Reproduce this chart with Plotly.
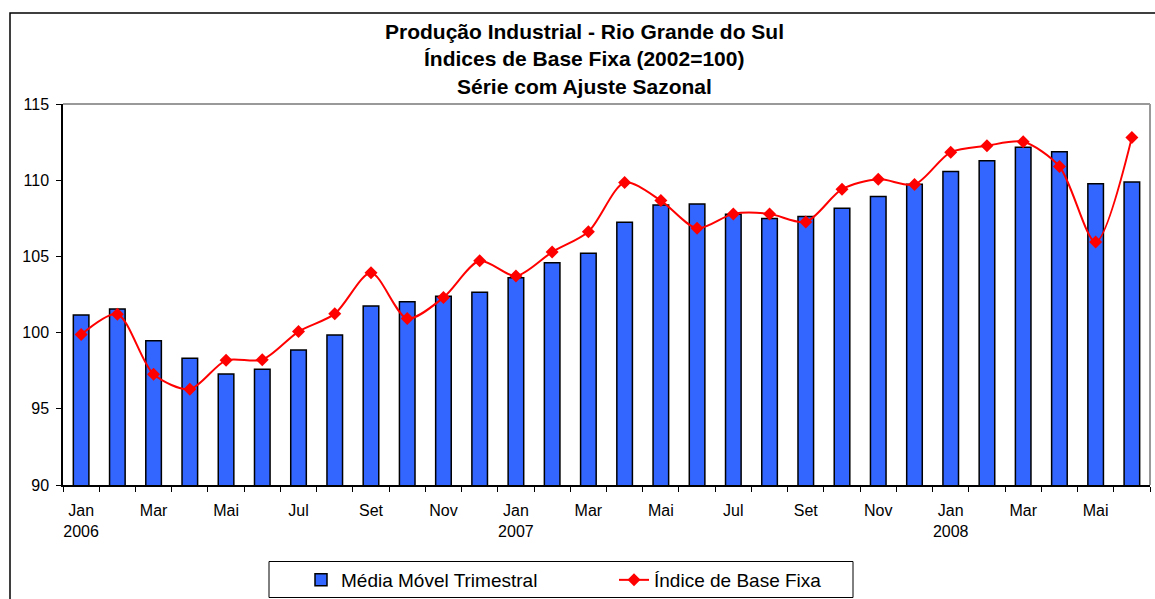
import plotly.graph_objects as go

# ---- data ----
months = ["Jan", "Fev", "Mar", "Abr", "Mai", "Jun", "Jul", "Ago", "Set", "Out", "Nov", "Dez"]
years = [2006, 2007, 2008]
categories = [f"{m} {y}" for y in years for m in months][:30]

media_movel = [101.15, 101.55, 99.47, 98.31, 97.28, 97.59, 98.86, 99.84, 101.75, 102.02,
               102.39, 102.65, 103.60, 104.58, 105.20, 107.24, 108.38, 108.44, 107.76, 107.48,
               107.61, 108.16, 108.93, 109.74, 110.57, 111.27, 112.17, 111.86, 109.76, 109.89]
indice_base = [99.87, 101.21, 97.26, 96.29, 98.18, 98.22, 100.07, 101.23, 103.93, 100.92,
               102.30, 104.71, 103.71, 105.29, 106.62, 109.85, 108.66, 106.84, 107.79, 107.79,
               107.26, 109.41, 110.07, 109.71, 111.84, 112.26, 112.52, 110.90, 105.94, 112.81]

tick_text = []
for c in categories:
    m, y = c.split()
    if m == "Jan":
        tick_text.append(f"{m}<br>{y}")
    elif m in ("Mar", "Mai", "Jul", "Set", "Nov"):
        tick_text.append(m)
    else:
        tick_text.append("")

title_lines = ["Produção Industrial - Rio Grande do Sul",
               "Índices de Base Fixa (2002=100)",
               "Série com Ajuste Sazonal"]

# ---- layout geometry (pixels, page coordinates; body margin removed) ----
W, H = 1155, 599
PL, PR, PT, PB = 63, 1150, 104, 485  # plot area
L, T, R, B = PL, PT, W - PR, H - PB
PW, PH = W - L - R, H - T - B


def px_x(x):
    return (x - L) / PW


def px_y(y):
    return (H - B - y) / PH


FONT = "Liberation Sans, Arial, sans-serif"

fig = go.Figure()
fig.add_trace(go.Bar(
    x=categories, y=media_movel, name="Média Móvel Trimestral",
    marker=dict(color="#3366FF", line=dict(color="#000000", width=1.5)),
))
fig.add_trace(go.Scatter(
    x=categories, y=indice_base, name="Índice de Base Fixa",
    mode="lines+markers",
    line=dict(color="#FF0000", width=2, shape="spline", smoothing=0.8),
    marker=dict(symbol="diamond", size=10, color="#FF0000"),
))

shapes = [
    # outer chart border
    dict(type="rect", xref="paper", yref="paper",
         x0=px_x(10), x1=px_x(1165), y0=px_y(610), y1=px_y(13),
         line=dict(color="#000000", width=1.5), fillcolor="rgba(0,0,0,0)", layer="below"),
    # plot area border (top, right)
    dict(type="line", xref="paper", yref="paper", x0=0, x1=1, y0=1, y1=1,
         line=dict(color="#999999", width=2), layer="below"),
    dict(type="line", xref="paper", yref="paper", x0=1, x1=1, y0=0, y1=1,
         line=dict(color="#999999", width=2), layer="below"),
    # legend box
    dict(type="rect", xref="paper", yref="paper",
         x0=px_x(269), x1=px_x(853), y0=px_y(597.5), y1=px_y(561.5),
         line=dict(color="#000000", width=1), fillcolor="white", layer="below"),
]

annotations = []
for txt, yc in zip(title_lines, [31, 58.5, 86]):
    annotations.append(dict(
        text=f"<b>{txt}</b>", xref="paper", yref="paper",
        x=px_x(584), y=px_y(yc), xanchor="center", yanchor="middle",
        showarrow=False, font=dict(family=FONT, size=21, color="#000000"),
    ))

fig.update_layout(
    width=W, height=H,
    margin=dict(l=L, r=R, t=T, b=B, pad=0, autoexpand=False),
    paper_bgcolor="white", plot_bgcolor="white",
    bargap=0.57,
    showlegend=True,
    legend=dict(
        orientation="h",
        xref="container", yref="container",
        x=301 / W, xanchor="left", y=(H - 580) / H, yanchor="middle",
        font=dict(family=FONT, size=19, color="#000000"),
        bgcolor="rgba(0,0,0,0)", borderwidth=0,
        entrywidth=268, entrywidthmode="pixels",
    ),
    shapes=shapes,
    annotations=annotations,
    xaxis=dict(
        type="category", categoryorder="array", categoryarray=categories,
        tickmode="array", tickvals=categories, ticktext=tick_text, tickangle=0,
        tickson="boundaries", ticks="outside", ticklen=5, tickwidth=1, tickcolor="#000000",
        showline=True, linecolor="#000000", linewidth=1.5,
        showgrid=False, zeroline=False, automargin=False,
        tickfont=dict(family=FONT, size=16, color="#000000"),
        ticklabelstandoff=10,
        range=[-0.5, 29.5],
    ),
    xaxis2=dict(
        overlaying="x", anchor="y", side="bottom", range=[-0.5, 29.5],
        tickmode="linear", tick0=-0.5, dtick=1, ticks="inside", ticklen=6,
        tickwidth=1, tickcolor="#000000", showticklabels=False,
        showgrid=False, zeroline=False, showline=False,
    ),
    yaxis=dict(
        range=[90, 115], tickmode="linear", tick0=90, dtick=5,
        ticks="outside", ticklen=5, tickwidth=1, tickcolor="#000000",
        showline=True, linecolor="#000000", linewidth=1.5,
        showgrid=False, zeroline=False, automargin=False,
        tickfont=dict(family=FONT, size=16, color="#000000"),
        ticklabelstandoff=4,
    ),
    font=dict(family=FONT, color="#000000"),
)

fig.write_html(
    "out.html",
    config={"displayModeBar": False},
    post_script="document.body.style.margin='0';document.body.style.overflow='hidden';",
)
